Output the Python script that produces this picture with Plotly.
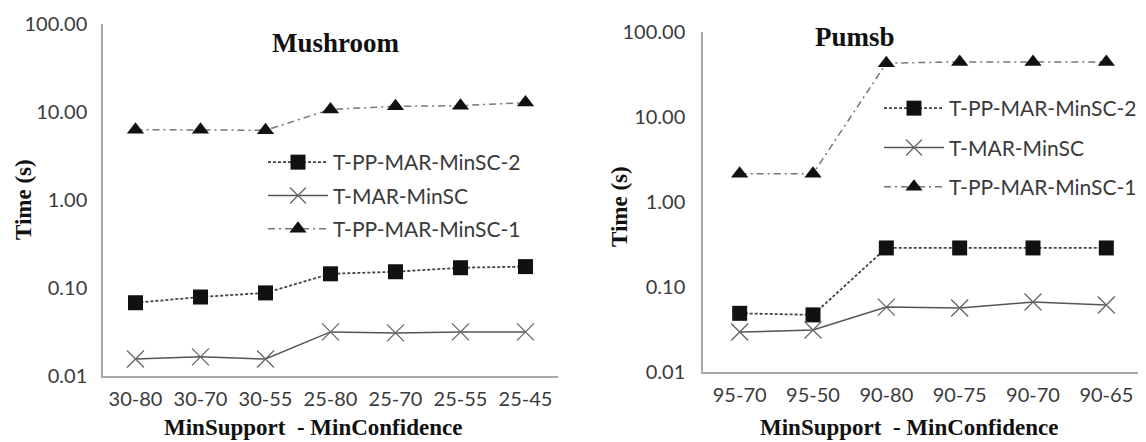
import plotly.graph_objects as go

W, H = 1146, 442
OFF = 8  # page body margin offset of the figure

# ---------------- data ----------------
mush_cats = ["30-80", "30-70", "30-55", "25-80", "25-70", "25-55", "25-45"]
mush_pp2 = [0.068, 0.079, 0.088, 0.145, 0.153, 0.170, 0.175]
mush_mar = [0.0156, 0.0165, 0.0156, 0.0317, 0.0309, 0.0317, 0.0317]
mush_pp1 = [6.3, 6.3, 6.2, 10.7, 11.6, 11.8, 12.8]

pumsb_cats = ["95-70", "95-50", "90-80", "90-75", "90-70", "90-65"]
pumsb_pp2 = [0.049, 0.047, 0.288, 0.288, 0.288, 0.288]
pumsb_mar = [0.0295, 0.0312, 0.058, 0.0566, 0.0666, 0.0614]
pumsb_pp1 = [2.15, 2.15, 43.0, 44.5, 44.5, 44.5]

series_names = ["T-PP-MAR-MinSC-2", "T-MAR-MinSC", "T-PP-MAR-MinSC-1"]
ytick_vals = [0.01, 0.1, 1, 10, 100]
ytick_text = ["0.01", "0.10", "1.00", "10.00", "100.00"]

# ---------------- styles ----------------
TICK_FONT = dict(family="Lato", size=20, color="#3a3a3a")
SERIF = "Liberation Serif"

styles = [
    dict(line=dict(color="#444444", width=1.8, dash="3px,2px"),
         marker=dict(symbol="square", size=15, color="#111111")),
    dict(line=dict(color="#555555", width=1.5, dash="solid"),
         marker=dict(symbol="x-thin", size=17, color="#666666",
                     line=dict(color="#666666", width=1.3))),
    dict(line=dict(color="#777777", width=1.5, dash="7px,4px,2px,4px"),
         marker=dict(symbol="triangle-up", size=15, color="#111111")),
]

fig = go.Figure()

def add_panel(cats, values, xa, ya, legend):
    for i, (name, vals) in enumerate(zip(series_names, values)):
        fig.add_trace(go.Scatter(
            x=cats, y=vals, name=name, mode="lines+markers",
            xaxis=xa, yaxis=ya, legend=legend, legendgroup=legend + str(i),
            line=styles[i]["line"], marker=styles[i]["marker"],
        ))

add_panel(mush_cats, [mush_pp2, mush_mar, mush_pp1], "x", "y", "legend")
add_panel(pumsb_cats, [pumsb_pp2, pumsb_mar, pumsb_pp1], "x2", "y2", "legend2")

def px_x(p):
    return (p - OFF) / W

def px_y(p):
    return (H - (p - OFF)) / H

axis_common = dict(showgrid=False, zeroline=False, showline=True,
                   linecolor="#a8a8a8", linewidth=1.5, ticks="",
                   tickfont=TICK_FONT, automargin=False)

fig.update_layout(
    width=W, height=H,
    margin=dict(l=0, r=0, t=0, b=0, pad=0, autoexpand=False),
    paper_bgcolor="white", plot_bgcolor="white",
    showlegend=True,
    xaxis=dict(domain=[px_x(103), px_x(558)], type="category",
               range=[-0.5, 6.5], anchor="y", ticklabelstandoff=4, **axis_common),
    yaxis=dict(domain=[px_y(376), px_y(24)], type="log", range=[-2, 2],
               anchor="x", tickvals=ytick_vals, ticktext=ytick_text,
               ticklabelstandoff=10, **axis_common),
    xaxis2=dict(domain=[px_x(703), px_x(1143)], type="category",
                range=[-0.5, 5.5], anchor="y2", ticklabelstandoff=4, **axis_common),
    yaxis2=dict(domain=[px_y(372), px_y(32)], type="log", range=[-2, 2],
                anchor="x2", tickvals=ytick_vals, ticktext=ytick_text,
                ticklabelstandoff=12, **axis_common),
    legend=dict(x=px_x(263), y=px_y(142), xanchor="left", yanchor="top",
                font=dict(family="Lato", size=21, color="#3a3a3a"),
                bgcolor="rgba(0,0,0,0)", traceorder="grouped",
                tracegroupgap=3, itemwidth=60),
    legend2=dict(x=px_x(879), y=px_y(88), xanchor="left", yanchor="top",
                 font=dict(family="Lato", size=21, color="#3a3a3a"),
                 bgcolor="rgba(0,0,0,0)", traceorder="grouped",
                 tracegroupgap=9, itemwidth=60),
)

annos = [
    dict(text="<b>Mushroom</b>", x=px_x(336), y=px_y(43), size=27),
    dict(text="<b>Pumsb</b>", x=px_x(855), y=px_y(37), size=27),
    dict(text="<b>MinSupport  - MinConfidence</b>", x=px_x(313), y=px_y(427), size=23),
    dict(text="<b>MinSupport  - MinConfidence</b>", x=px_x(909), y=px_y(427), size=23),
]
for a in annos:
    fig.add_annotation(text=a["text"], x=a["x"], y=a["y"], xref="paper", yref="paper",
                       xanchor="center", yanchor="middle", showarrow=False,
                       font=dict(family=SERIF, size=a["size"], color="#111111"))

for xc, yc in [(23, 200), (620, 207)]:
    fig.add_annotation(text="<b>Time (s)</b>", x=px_x(xc), y=px_y(yc),
                       xref="paper", yref="paper", xanchor="center", yanchor="middle",
                       textangle=-90, showarrow=False,
                       font=dict(family=SERIF, size=23, color="#111111"))

fig.write_html("out.html")
